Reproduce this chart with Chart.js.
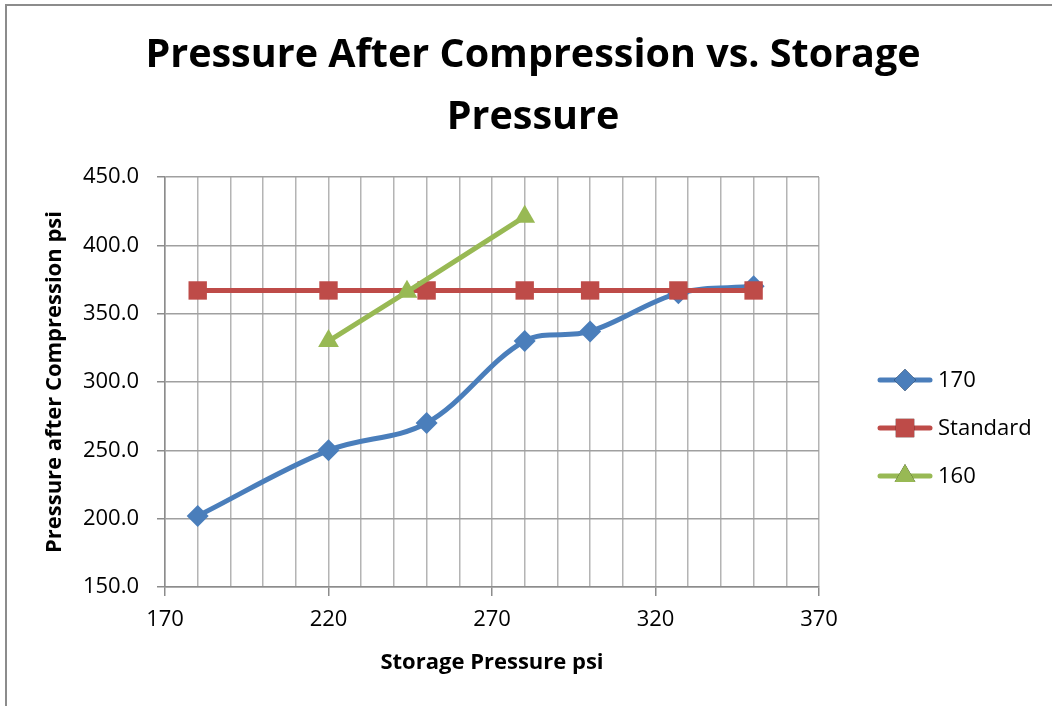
<!DOCTYPE html>
<html>
<head>
<meta charset="utf-8">
<title>Pressure After Compression vs. Storage Pressure</title>
<script src="https://cdn.jsdelivr.net/npm/chart.js@4.4.1/dist/chart.umd.min.js"></script>
<style>
  html, body { margin: 0; padding: 0; background: #fff; overflow: hidden; }
  #frame { position: absolute; left: 5px; top: 4px; width: 1100px; height: 760px;
           border-left: 2px solid #8c8c8c; border-top: 2px solid #8c8c8c; }
  #wrap { position: absolute; left: 0; top: 0; width: 1052px; height: 706px; }
</style>
</head>
<body>
<div id="frame"></div>
<div id="wrap"><canvas id="chart"></canvas></div>
<script>
// storage pressure (psi) for the 170 and Standard runs
const storagePressure = [180, 220, 250, 280, 300, 327, 350];
const after170 = [202, 250, 270, 330, 337, 365, 370];
const afterStandard = [367, 367, 367, 367, 367, 367, 367];
// the 160 run only has three readings
const storage160 = [220, 244, 280];
const after160 = [330, 366, 421];

const xTicks = { min: 170, max: 370, step: 10, labelEvery: 50 };
const yTicks = { min: 150, max: 450, step: 50 };

const FONT = '"Open Sans", Lato, sans-serif';
const BLUE = '#4a7ebb', RED = '#be4b48', GREEN = '#98b954';

function toPoints(xs, ys) {
  return xs.map((x, i) => ({ x: x, y: ys[i] }));
}

function isLabelled(v) {
  return (v - xTicks.min) % xTicks.labelEvery === 0;
}

// legend on the right: short line with the series marker, then the name
const sideLegend = {
  id: 'sideLegend',
  afterDraw(chart) {
    const ctx = chart.ctx;
    const area = chart.chartArea;
    const x0 = area.right + 59;
    const midY = (area.top + area.bottom) / 2 + 46;
    const gap = 48;
    const sets = chart.data.datasets;
    ctx.save();
    sets.forEach((ds, i) => {
      const y = midY + (i - (sets.length - 1) / 2) * gap;
      ctx.strokeStyle = ds.borderColor;
      ctx.lineWidth = ds.borderWidth;
      ctx.lineCap = 'round';
      ctx.beginPath();
      ctx.moveTo(x0 + 2, y);
      ctx.lineTo(x0 + 52, y);
      ctx.stroke();
      Chart.helpers.drawPoint(ctx, {
        pointStyle: ds.pointStyle,
        radius: ds.pointRadius,
        borderWidth: 0
      }, x0 + 27, y);
      ctx.fillStyle = ds.pointBackgroundColor;
      ctx.fill();
      ctx.fillStyle = '#000';
      ctx.font = '22px ' + FONT;
      ctx.textBaseline = 'middle';
      ctx.textAlign = 'left';
      ctx.fillText(ds.label, x0 + 60, y + 1);
    });
    ctx.restore();
  }
};

new Chart(document.getElementById('chart'), {
  type: 'scatter',
  data: {
    datasets: [
      {
        label: '170',
        data: toPoints(storagePressure, after170),
        showLine: true,
        tension: 0.35,
        borderColor: BLUE,
        borderWidth: 5,
        pointStyle: 'rectRot',
        pointRadius: 11,
        pointBackgroundColor: BLUE,
        pointBorderWidth: 0,
        order: 2
      },
      {
        label: 'Standard',
        data: toPoints(storagePressure, afterStandard),
        showLine: true,
        tension: 0,
        borderColor: RED,
        borderWidth: 5,
        pointStyle: 'rect',
        pointRadius: 13,
        pointBackgroundColor: RED,
        pointBorderWidth: 0,
        order: 1
      },
      {
        label: '160',
        data: toPoints(storage160, after160),
        showLine: true,
        tension: 0,
        borderColor: GREEN,
        borderWidth: 5,
        pointStyle: 'triangle',
        pointRadius: 12,
        pointBackgroundColor: GREEN,
        pointBorderWidth: 0,
        order: 0
      }
    ]
  },
  options: {
    responsive: true,
    maintainAspectRatio: false,
    animation: false,
    layout: { padding: { left: 14, right: 0, top: 0, bottom: 0 } },
    plugins: {
      legend: { display: false },
      tooltip: { enabled: false },
      title: {
        display: true,
        text: ['Pressure After Compression vs. Storage', 'Pressure'],
        color: '#000',
        font: { family: FONT, size: 39.5, weight: 'bold', lineHeight: 1.57 },
        padding: { top: 25, bottom: 28 }
      }
    },
    scales: {
      x: {
        type: 'linear',
        min: xTicks.min,
        max: xTicks.max,
        border: { color: '#8c8c8c', width: 1.5 },
        grid: {
          color: '#b4b4b4',
          lineWidth: 1.5,
          tickLength: 9,
          tickColor: (c) => (c.tick && isLabelled(c.tick.value)) ? '#8c8c8c' : 'rgba(0,0,0,0)'
        },
        ticks: {
          stepSize: xTicks.step,
          autoSkip: false,
          maxRotation: 0,
          padding: 11,
          color: '#000',
          font: { family: FONT, size: 22 },
          callback: (v) => isLabelled(v) ? String(v) : ''
        },
        title: {
          display: true,
          text: 'Storage Pressure psi',
          color: '#000',
          font: { family: FONT, size: 22, weight: 'bold' },
          padding: { top: 0, bottom: 30 }
        },
        afterFit: (scale) => { scale.height = 119; }
      },
      y: {
        min: yTicks.min,
        max: yTicks.max,
        border: { color: '#8c8c8c', width: 1.5 },
        grid: { color: '#a0a0a0', lineWidth: 1.5, tickLength: 8, tickColor: '#8c8c8c' },
        ticks: {
          stepSize: yTicks.step,
          padding: 18,
          color: '#000',
          font: { family: FONT, size: 22 },
          callback: (v) => v.toFixed(1)
        },
        title: {
          display: true,
          text: 'Pressure after Compression psi',
          color: '#000',
          font: { family: FONT, size: 22, weight: 'bold' },
          padding: { top: 28, bottom: 0 }
        },
        afterFit: (scale) => { scale.width = 151; }
      },
      // empty right-hand axis that keeps room for the legend
      legendRoom: {
        type: 'linear',
        position: 'right',
        display: true,
        grid: { display: false, drawOnChartArea: false },
        border: { display: false },
        ticks: { display: false },
        afterFit: (scale) => { scale.width = 233; }
      }
    }
  },
  plugins: [sideLegend]
});
</script>
</body>
</html>
